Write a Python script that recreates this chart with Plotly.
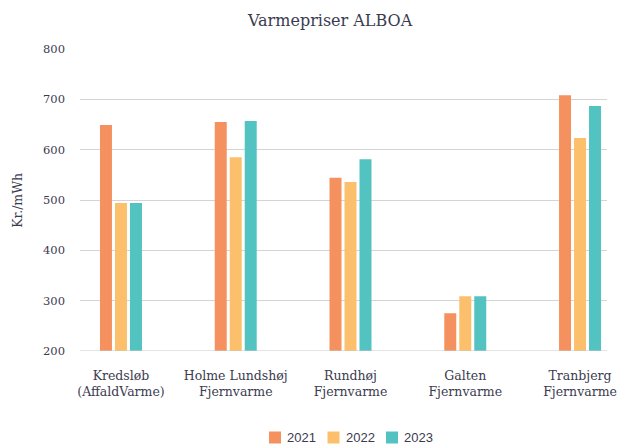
import plotly.graph_objects as go

categories = ["Kredsløb<br>(AffaldVarme)", "Holme Lundshøj<br>Fjernvarme", "Rundhøj<br>Fjernvarme",
              "Galten<br>Fjernvarme", "Tranbjerg<br>Fjernvarme"]
years = ["2021", "2022", "2023"]
v2021 = [649, 655, 544, 275, 708]
v2022 = [494, 585, 536, 309, 623]
v2023 = [494, 657, 581, 309, 687]
colors = ["#F5915F", "#FCC06D", "#53C3C1"]
y_ticks = [200, 300, 400, 500, 600, 700, 800]

serif = "DejaVu Serif"
text_color = "#3B3B4F"

ML, MR, MT, MB, W, H = 80, 10, 49, 94, 617, 445
PW, PH = W - ML - MR, H - MT - MB

def px_x(px):
    return (px - ML) / PW

def px_y(py):
    return (H - MB - py) / PH

fig = go.Figure()
for name, vals, col in zip(years, [v2021, v2022, v2023], colors):
    fig.add_trace(go.Bar(x=list(range(len(categories))), y=vals, name=name,
                         marker=dict(color=col, line=dict(width=0)), showlegend=False))

fig.update_layout(
    width=W, height=H,
    margin=dict(l=ML, r=MR, t=MT, b=MB, autoexpand=False),
    paper_bgcolor="white", plot_bgcolor="white",
    barmode="group", bargap=0.608, bargroupgap=0.2,
    title=dict(text="Varmepriser ALBOA", x=0.535, xref="container", xanchor="center",
               y=0.955, yanchor="middle", yref="container",
               font=dict(family=serif, size=16, color=text_color)),
    showlegend=False,
    font=dict(family=serif, color=text_color),
)
fig.update_xaxes(tickmode="array", tickvals=list(range(len(categories))), ticktext=categories,
                 range=[-0.357, 4.235], showgrid=False, showline=False, zeroline=False,
                 ticks="", tickfont=dict(family=serif, size=12.5, color=text_color),
                 ticklabelstandoff=15, automargin=False)
fig.update_yaxes(range=[200, 800], tickvals=y_ticks, showgrid=True, gridcolor="#D4D4D4",
                 gridwidth=1, zeroline=False, showline=False, ticks="",
                 tickfont=dict(family=serif, size=11.5, color=text_color),
                 ticklabelstandoff=14, automargin=False)
fig.add_annotation(text="Kr./mWh", xref="paper", yref="paper", x=-0.12, y=0.5,
                   xanchor="center", yanchor="middle", textangle=-90, showarrow=False,
                   font=dict(family=serif, size=12.5, color=text_color))
fig.add_shape(type="line", xref="paper", yref="y", x0=0, x1=1, y0=200, y1=200,
              line=dict(color="#C8C8C8", width=1))

# legend (manual, to match compact spacing)
legend_left = [269, 327.5, 386]
for name, col, lx in zip(years, colors, legend_left):
    fig.add_shape(type="rect", xref="paper", yref="paper",
                  x0=px_x(lx), x1=px_x(lx + 12), y0=px_y(443.5), y1=px_y(431.5),
                  fillcolor=col, line=dict(width=0))
    fig.add_annotation(text=name, xref="paper", yref="paper", x=px_x(lx + 16), y=px_y(437.5),
                       xanchor="left", yanchor="middle", showarrow=False,
                       font=dict(family="Liberation Sans", size=13, color=text_color))

fig.write_html("out.html", config={"displayModeBar": False},
               post_script="document.body.style.margin='0px';")
